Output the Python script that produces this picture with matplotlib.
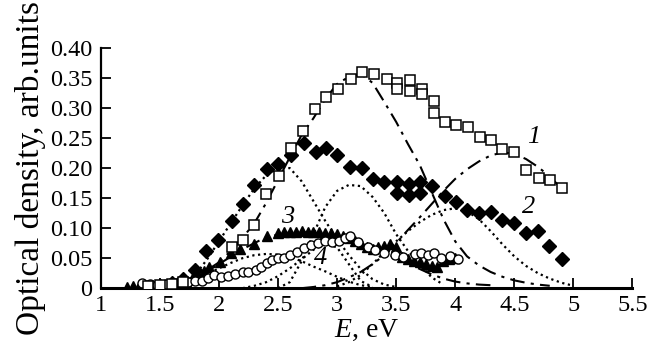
import matplotlib
matplotlib.use('Agg')
import matplotlib.pyplot as plt
import numpy as np

plt.rcParams['font.family'] = ['Liberation Serif', 'DejaVu Serif']
plt.rcParams['mathtext.fontset'] = 'custom'
plt.rcParams['mathtext.rm'] = 'Liberation Serif'
plt.rcParams['mathtext.it'] = 'Liberation Serif:italic'

# ---- measured points ----
# 1: open squares
e_sq = [1.4, 1.5, 1.6, 1.7, 2.11, 2.20, 2.30, 2.40, 2.51, 2.61, 2.71, 2.81, 2.91, 3.01,
        3.12, 3.21, 3.31, 3.42, 3.51, 3.51, 3.62, 3.62, 3.72, 3.72, 3.82, 3.82, 3.91,
        4.01, 4.11, 4.21, 4.30, 4.40, 4.50, 4.60, 4.71, 4.80, 4.90]
d_sq = [0.004, 0.005, 0.007, 0.010, 0.068, 0.080, 0.105, 0.157, 0.187, 0.234, 0.262, 0.298,
        0.319, 0.331, 0.348, 0.360, 0.357, 0.348, 0.342, 0.331, 0.346, 0.328, 0.331, 0.324,
        0.312, 0.292, 0.276, 0.271, 0.268, 0.251, 0.246, 0.231, 0.227, 0.197, 0.183, 0.180,
        0.166]

# 2: filled diamonds
e_di = [1.5, 1.6, 1.7, 1.8, 1.89, 1.99, 2.11, 2.20, 2.30, 2.41, 2.50, 2.61, 2.72, 2.82,
        2.91, 3.00, 3.11, 3.21, 3.30, 3.40, 3.51, 3.51, 3.61, 3.61, 3.70, 3.70, 3.80,
        3.91, 4.01, 4.10, 4.20, 4.30, 4.40, 4.50, 4.60, 4.70, 4.79, 4.90]
d_di = [0.004, 0.008, 0.015, 0.030, 0.062, 0.081, 0.112, 0.141, 0.172, 0.198, 0.207, 0.222,
        0.241, 0.226, 0.233, 0.222, 0.202, 0.200, 0.182, 0.177, 0.177, 0.159, 0.174, 0.155,
        0.177, 0.158, 0.170, 0.153, 0.143, 0.130, 0.126, 0.127, 0.113, 0.108, 0.092, 0.096,
        0.070, 0.048]

# 3: filled triangles
e_tr = [1.22, 1.27, 1.32, 1.37, 1.42, 1.47, 1.52, 1.57, 1.62, 1.67, 1.72, 1.77, 1.82, 1.87,
        1.92, 2.01, 2.10, 2.18, 2.30, 2.41, 2.50, 2.55, 2.60, 2.65, 2.70, 2.75, 2.80, 2.85,
        2.90, 2.95, 3.00, 3.05, 3.10, 3.15, 3.20, 3.25, 3.30, 3.35, 3.40, 3.45, 3.50, 3.55,
        3.60, 3.65, 3.70, 3.75, 3.80, 3.85, 3.90, 3.95, 4.00]
d_tr = [0.002, 0.003, 0.004, 0.004, 0.005, 0.006, 0.006, 0.007, 0.008, 0.010, 0.012, 0.016,
        0.022, 0.028, 0.035, 0.044, 0.058, 0.066, 0.073, 0.087, 0.092, 0.093, 0.094, 0.094,
        0.095, 0.094, 0.094, 0.093, 0.092, 0.092, 0.090, 0.087, 0.083, 0.078, 0.073, 0.068,
        0.066, 0.068, 0.071, 0.073, 0.068, 0.052, 0.048, 0.046, 0.043, 0.041, 0.037, 0.036,
        0.045, 0.049, 0.051]

# 4: open circles
e_ci = [1.35, 1.42, 1.48, 1.55, 1.62, 1.68, 1.74, 1.80, 1.86, 1.91, 1.96, 2.02, 2.08, 2.14,
        2.20, 2.25, 2.31, 2.36, 2.41, 2.45, 2.50, 2.55, 2.60, 2.66, 2.72, 2.78, 2.84, 2.90,
        2.96, 3.02, 3.07, 3.11, 3.18, 3.26, 3.32, 3.40, 3.49, 3.56, 3.66, 3.71, 3.77, 3.82,
        3.88, 3.96, 4.02]
d_ci = [0.008, 0.007, 0.006, 0.007, 0.009, 0.010, 0.011, 0.012, 0.012, 0.017, 0.022, 0.018,
        0.020, 0.024, 0.027, 0.027, 0.030, 0.036, 0.042, 0.047, 0.050, 0.050, 0.056, 0.061,
        0.067, 0.072, 0.076, 0.078, 0.077, 0.078, 0.083, 0.087, 0.077, 0.069, 0.063, 0.058,
        0.055, 0.052, 0.057, 0.059, 0.055, 0.058, 0.050, 0.053, 0.048]

# ---- decomposition curves ----
e_fa = [1.7, 1.8, 1.9, 2.0, 2.1, 2.2, 2.3, 2.4, 2.5, 2.6, 2.7, 2.8, 2.9, 3.0, 3.1, 3.2, 3.3,
        3.4, 3.5, 3.6, 3.7, 3.8, 3.9, 4.0, 4.1, 4.2, 4.3, 4.4, 4.5, 4.6, 4.7, 4.8]
d_fa = [0.012, 0.020, 0.030, 0.043, 0.062, 0.084, 0.108, 0.142, 0.180, 0.218, 0.255, 0.283,
        0.315, 0.340, 0.352, 0.357, 0.342, 0.310, 0.277, 0.240, 0.205, 0.160, 0.115, 0.078,
        0.053, 0.038, 0.027, 0.019, 0.013, 0.009, 0.006, 0.004]

e_fb = [2.7, 2.8, 2.9, 3.0, 3.1, 3.2, 3.3, 3.4, 3.5, 3.6, 3.7, 3.8, 3.9, 4.0, 4.1, 4.2, 4.3,
        4.4, 4.5, 4.6, 4.7, 4.8, 4.9, 4.95]
d_fb = [0.000, 0.002, 0.005, 0.010, 0.018, 0.027, 0.040, 0.055, 0.075, 0.097, 0.118, 0.140,
        0.162, 0.182, 0.198, 0.211, 0.221, 0.226, 0.224, 0.215, 0.202, 0.186, 0.166, 0.155]

e_fc = [1.8, 2.0, 2.2, 2.4, 2.6, 2.8, 3.0, 3.2, 3.3, 3.4, 3.5, 3.6, 3.7, 3.8, 3.9, 4.0, 4.1,
        4.2, 4.3]
d_fc = [0.015, 0.040, 0.065, 0.085, 0.093, 0.093, 0.088, 0.075, 0.066, 0.060, 0.050, 0.041,
        0.032, 0.023, 0.016, 0.011, 0.008, 0.006, 0.005]

e_da = [1.6, 1.7, 1.8, 1.9, 2.0, 2.1, 2.2, 2.3, 2.4, 2.5, 2.6, 2.7, 2.8, 2.9, 3.0, 3.1, 3.2,
        3.3, 3.4, 3.5]
d_da = [0.003, 0.008, 0.022, 0.048, 0.078, 0.108, 0.138, 0.166, 0.188, 0.200, 0.200, 0.178,
        0.145, 0.112, 0.082, 0.055, 0.032, 0.015, 0.006, 0.002]

e_db = [2.5, 2.6, 2.7, 2.8, 2.9, 3.0, 3.1, 3.2, 3.3, 3.4, 3.5, 3.6, 3.7, 3.8, 3.9]
d_db = [0.000, 0.010, 0.045, 0.090, 0.135, 0.162, 0.172, 0.170, 0.152, 0.125, 0.090, 0.062,
        0.040, 0.018, 0.006]

e_dc = [3.0, 3.1, 3.2, 3.3, 3.4, 3.5, 3.6, 3.7, 3.8, 3.9, 4.0, 4.1, 4.2, 4.3, 4.4, 4.5, 4.6,
        4.7, 4.8, 4.9, 5.0]
d_dc = [0.003, 0.010, 0.022, 0.040, 0.060, 0.078, 0.095, 0.110, 0.122, 0.130, 0.133, 0.128,
        0.115, 0.095, 0.073, 0.053, 0.037, 0.025, 0.016, 0.009, 0.004]

e_dd = [1.7, 1.8, 1.9, 2.0, 2.1, 2.2, 2.3, 2.4, 2.5, 2.6, 2.7, 2.8, 2.9, 3.0, 3.1, 3.2, 3.3]
d_dd = [0.005, 0.013, 0.024, 0.033, 0.042, 0.050, 0.055, 0.057, 0.056, 0.052, 0.045, 0.036,
        0.028, 0.019, 0.011, 0.005, 0.002]

e_de = [2.2, 2.3, 2.4, 2.5, 2.6, 2.7, 2.8, 2.9, 3.0, 3.1, 3.2, 3.3]
d_de = [0.000, 0.004, 0.010, 0.020, 0.033, 0.048, 0.064, 0.074, 0.068, 0.040, 0.012, 0.002]

xticks = [1, 1.5, 2, 2.5, 3, 3.5, 4, 4.5, 5, 5.5]
xtick_labels = ['1', '1.5', '2', '2.5', '3', '3.5', '4', '4.5', '5', '5.5']
yticks = [0, 0.05, 0.10, 0.15, 0.20, 0.25, 0.30, 0.35, 0.40]
ytick_labels = ['0', '0.05', '0.10', '0.15', '0.20', '0.25', '0.30', '0.35', '0.40']

fig = plt.figure(figsize=(6.5, 3.58), dpi=100)
ax = fig.add_axes([0.155, 0.195, 0.818, 0.671])

dashdot = (0, (7, 3, 1.5, 3))
dotted = (0, (1, 1.6))
for e, d in [(e_fa, d_fa), (e_fb, d_fb), (e_fc, d_fc)]:
    ax.plot(e, d, color='black', lw=1.5, ls=dashdot, zorder=2)
for e, d in [(e_da, d_da), (e_db, d_db), (e_dc, d_dc), (e_dd, d_dd), (e_de, d_de)]:
    ax.plot(e, d, color='black', lw=1.6, ls=dotted, zorder=2)

ax.plot(e_tr, d_tr, ls='none', marker='^', ms=7.5, color='black', zorder=3)
ax.plot(e_ci, d_ci, ls='none', marker='o', ms=6.5, mfc='white', mec='black', mew=1.0, zorder=4)
ax.plot(e_di, d_di, ls='none', marker='D', ms=7.5, color='black', zorder=3)
ax.plot(e_sq, d_sq, ls='none', marker='s', ms=6.5, mfc='white', mec='black', mew=1.1, zorder=4)

lab_kw = dict(fontsize=19, style='italic', ha='center', va='center')
ax.text(4.66, 0.252, '1', **lab_kw)
ax.text(4.62, 0.136, '2', **lab_kw)
ax.text(2.58, 0.119, '3', **lab_kw)
ax.text(2.86, 0.050, '4', **lab_kw)

ax.set_xlim(1, 5.5)
ax.set_ylim(0, 0.40)
ax.set_xticks(xticks)
ax.set_xticklabels(xtick_labels)
ax.set_yticks(yticks)
ax.set_yticklabels(ytick_labels)
ax.tick_params(direction='in', length=7, width=1.3, labelsize=17.5)
ax.tick_params(axis='x', pad=5)
ax.tick_params(axis='y', pad=6)
for s in ['top', 'right']:
    ax.spines[s].set_visible(False)
ax.spines['left'].set_linewidth(1.6)
ax.spines['bottom'].set_linewidth(2.2)

ax.set_xlabel('$E$, eV', fontsize=20, labelpad=1)
ax.set_ylabel('Optical density, arb.units', fontsize=24, labelpad=3)

fig.savefig('out.png', dpi=100, facecolor='white')
